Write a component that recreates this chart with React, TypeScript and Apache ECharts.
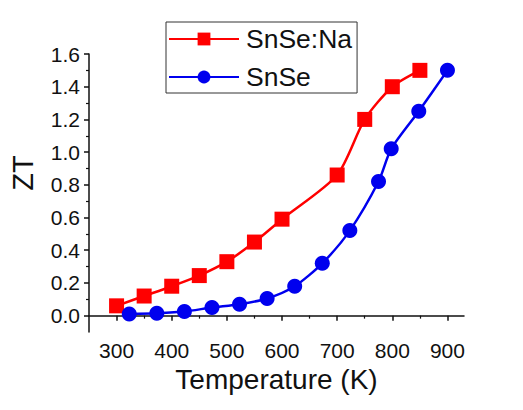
import React, { useEffect, useRef } from "react";
import * as echarts from "echarts";

const naTemps = [300, 350, 400, 450, 500, 550, 600, 700, 750, 800, 850];
const naZT = [0.06, 0.12, 0.18, 0.245, 0.33, 0.45, 0.59, 0.86, 1.2, 1.4, 1.5];
const pureTemps = [323, 373, 423, 473, 523, 573, 623, 673, 723, 775, 798, 848, 900];
const pureZT = [0.01, 0.015, 0.025, 0.05, 0.07, 0.105, 0.18, 0.32, 0.52, 0.82, 1.02, 1.25, 1.5];
const xMajor = [300, 400, 500, 600, 700, 800, 900];
const xMinor = [350, 450, 550, 650, 750, 850];
const yMajor = [0, 0.2, 0.4, 0.6, 0.8, 1.0, 1.2, 1.4, 1.6];
const yMinor = [0.1, 0.3, 0.5, 0.7, 0.9, 1.1, 1.3, 1.5];

const FONT = "Liberation Sans, Arial, sans-serif";

export default function App() {
  const ref = useRef<HTMLDivElement>(null);
  useEffect(() => {
    const chart = echarts.init(ref.current!, null, { renderer: "svg" });
    const axisLine = { show: true, lineStyle: { color: "#111", width: 1.5 } };
    chart.setOption({
      animation: false,
      backgroundColor: "#fff",
      grid: { left: 89, right: 59, top: 54, bottom: 78 },
      legend: {
        orient: "vertical",
        left: 166,
        top: 22,
        padding: [2, 5, 1, 2],
        itemGap: 8,
        itemWidth: 70,
        itemHeight: 16,
        borderColor: "#333",
        borderWidth: 1,
        textStyle: { fontSize: 26.5, lineHeight: 30, fontFamily: FONT, color: "#111", padding: [0, 0, 0, 2] },
        data: ["SnSe:Na", "SnSe"],
      },
      xAxis: [
        {
          type: "value",
          min: 250,
          max: 930,
          name: "Temperature (K)",
          nameLocation: "middle",
          nameGap: 31,
          nameTextStyle: { fontSize: 28, fontFamily: FONT, color: "#111" },
          axisLine,
          splitLine: { show: false },
          axisTick: { show: true, customValues: xMajor, length: 5, lineStyle: { color: "#111", width: 1.5 } },
          axisLabel: { customValues: xMajor, fontSize: 21, fontFamily: FONT, color: "#111", margin: 8 },
        },
        {
          type: "value",
          min: 250,
          max: 930,
          position: "bottom",
          axisLine: { show: false },
          splitLine: { show: false },
          axisTick: { show: true, customValues: xMinor, length: 3, lineStyle: { color: "#111", width: 1.2 } },
          axisLabel: { show: false },
        },
      ],
      yAxis: [
        {
          type: "value",
          min: -0.1,
          max: 1.6,
          name: "ZT",
          nameLocation: "middle",
          nameGap: 52,
          nameRotate: 90,
          nameTextStyle: { fontSize: 29, fontFamily: FONT, color: "#111", padding: [0, 0, 0, 40] },
          axisLine,
          splitLine: { show: false },
          axisTick: { show: true, customValues: yMajor, length: 5, lineStyle: { color: "#111", width: 1.5 } },
          axisLabel: {
            customValues: yMajor,
            fontSize: 21,
            fontFamily: FONT,
            color: "#111",
            margin: 9,
            formatter: (v: number) => v.toFixed(1),
          },
        },
        {
          type: "value",
          min: -0.1,
          max: 1.6,
          position: "left",
          axisLine: { show: false },
          splitLine: { show: false },
          axisTick: { show: true, customValues: yMinor, length: 3, lineStyle: { color: "#111", width: 1.2 } },
          axisLabel: { show: false },
        },
      ],
      series: [
        {
          name: "SnSe:Na",
          type: "line",
          smooth: 0.25,
          symbol: "rect",
          symbolSize: 15,
          color: "#ff0000",
          lineStyle: { width: 2.5, color: "#ff0000" },
          itemStyle: { color: "#ff0000" },
          data: naTemps.map((t, i) => [t, naZT[i]]),
        },
        {
          name: "SnSe",
          type: "line",
          smooth: 0.25,
          symbol: "circle",
          symbolSize: 15,
          color: "#0000ee",
          lineStyle: { width: 2.5, color: "#0000ee" },
          itemStyle: { color: "#0000ee" },
          data: pureTemps.map((t, i) => [t, pureZT[i]]),
        },
      ],
    });
    return () => chart.dispose();
  }, []);
  return <div ref={ref} style={{ width: 523, height: 410, position: "absolute", left: 0, top: 0 }} />;
}
